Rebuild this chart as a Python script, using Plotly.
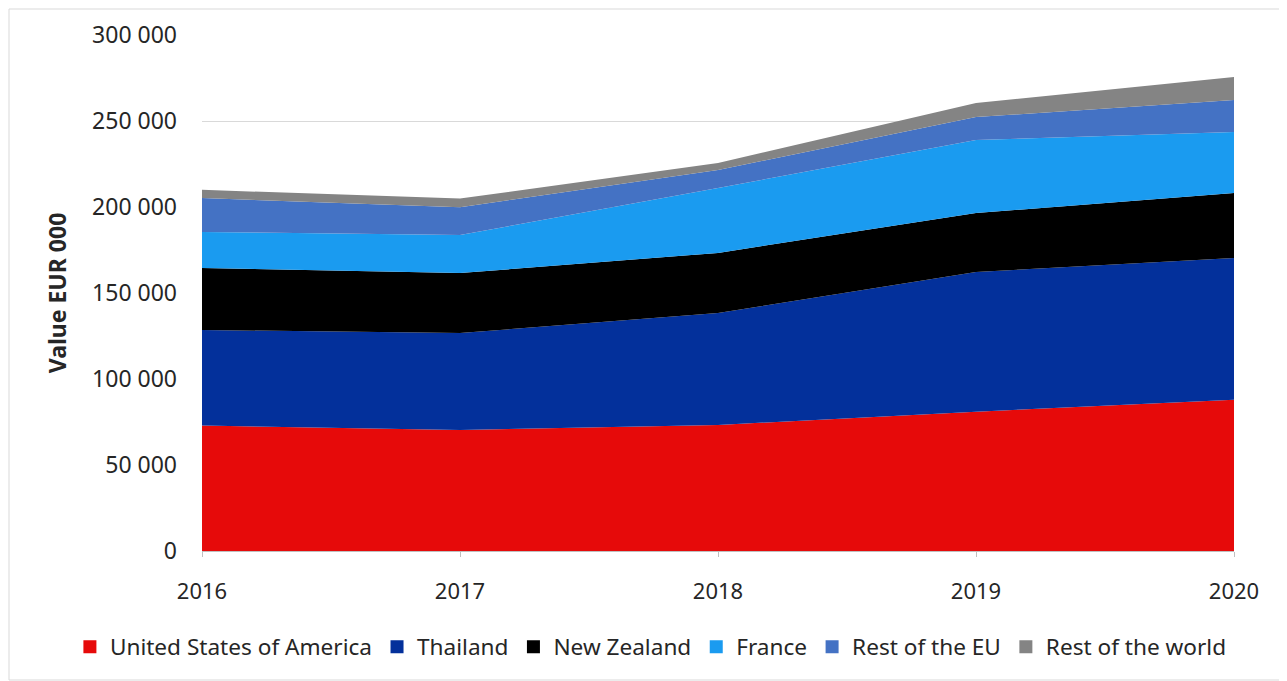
import plotly.graph_objects as go

years = ["2016", "2017", "2018", "2019", "2020"]
usa = [73000, 70300, 73300, 81000, 88000]
thailand = [55500, 56400, 65100, 81200, 82300]
new_zealand = [36000, 34900, 34900, 34300, 37800]
france = [21000, 22100, 37700, 42500, 35500]
rest_eu = [19700, 16200, 10500, 13300, 18600]
rest_world = [4800, 5000, 4100, 8200, 13400]

series = [
    ("United States of America", usa, "#E60A0A"),
    ("Thailand", thailand, "#03309B"),
    ("New Zealand", new_zealand, "#000000"),
    ("France", france, "#1A9BF0"),
    ("Rest of the EU", rest_eu, "#4472C4"),
    ("Rest of the world", rest_world, "#848484"),
]

xs = list(range(len(years)))
fig = go.Figure()
for name, vals, col in series:
    fig.add_trace(go.Scatter(
        x=xs, y=vals, name=name, mode="lines", stackgroup="one",
        line=dict(width=0, color=col), fillcolor=col, showlegend=False,
    ))
for name, vals, col in series:
    fig.add_trace(go.Scatter(
        x=[None], y=[None], name=name, mode="markers",
        marker=dict(symbol="square", size=13, color=col), showlegend=True,
    ))

font = "Noto Sans, Open Sans, sans-serif"
txt = "#262626"
# page body has an 8px default margin, so the figure is 8px smaller than the window
fig.update_layout(
    width=1279, height=673,
    margin=dict(l=194, r=53, t=27, b=130, autoexpand=False),
    paper_bgcolor="white", plot_bgcolor="white",
    separators=". ",
    font=dict(family=font, size=22, color=txt),
    showlegend=True,
    legend=dict(orientation="h", x=-0.128, xanchor="left",
                y=-0.186, yanchor="middle",
                font=dict(size=22.6, color=txt), traceorder="normal", itemwidth=30,
                tracegroupgap=0, bgcolor="rgba(0,0,0,0)"),
    xaxis=dict(
        tickmode="array", tickvals=xs, ticktext=years, range=[0, 4],
        showgrid=False, zeroline=False, showline=True, linecolor="#BFBFBF", linewidth=1,
        ticks="outside", ticklen=5, tickcolor="#BFBFBF", tickfont=dict(size=22, color=txt),
        ticklabelstandoff=16, automargin=False,
    ),
    yaxis=dict(
        range=[0, 300000], dtick=50000, tickformat=",d",
        showgrid=True, gridcolor="#D9D9D9", gridwidth=1,
        zeroline=False, showline=False, ticks="",
        tickfont=dict(size=23, color=txt), ticklabelstandoff=24, automargin=False,
        title=dict(text="<b>Value EUR 000</b>", font=dict(size=23, color=txt), standoff=19),
    ),
    shapes=[dict(type="rect", xref="paper", yref="paper",
                 x0=-193/1032, x1=1+52/1032, y0=-129/516, y1=1+26/516,
                 line=dict(color="#D9D9D9", width=1), fillcolor="rgba(0,0,0,0)")],
)
fig.write_html("out.html")
